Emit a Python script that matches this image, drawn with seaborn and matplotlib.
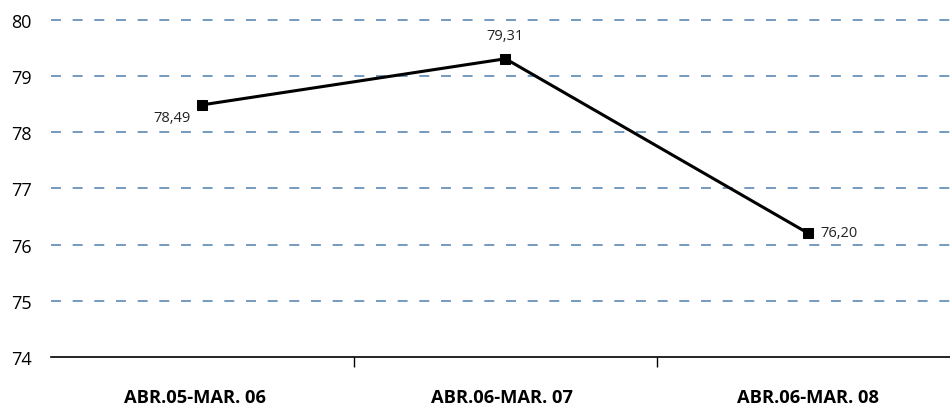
import matplotlib
matplotlib.use("Agg")
import matplotlib.pyplot as plt
import seaborn as sns
import pandas as pd

# data
periods = ["ABR.05-MAR. 06", "ABR.06-MAR. 07", "ABR.06-MAR. 08"]
values = [78.49, 79.31, 76.20]
y_ticks = [74, 75, 76, 77, 78, 79, 80]

sns.set_theme(style="white")
plt.rcParams["font.family"] = ["Open Sans", "DejaVu Sans"]

df = pd.DataFrame({"period": periods, "value": values})
df["x"] = range(len(periods))

fig = plt.figure(figsize=(9.5, 4.1), dpi=100)
ax = fig.add_axes([51 / 950, 52 / 410, 899 / 950, 337 / 410])

sns.lineplot(data=df, x="x", y="value", ax=ax, color="black", linewidth=2.2,
             marker="s", markersize=7, markeredgecolor="black", zorder=3)

ax.set_ylim(74, 80)
ax.set_xlim(-0.5, 2.467)
ax.set_yticks(y_ticks)
ax.set_yticklabels([str(t) for t in y_ticks], fontsize=13, color="black")
for t in y_ticks[1:]:
    ax.axhline(t, color="#6892b9", linestyle=(0, (5.5, 6.5)), linewidth=1.3,
               zorder=1, clip_on=False)

# labels for categories centered, ticks at boundaries
ax.set_xticks([0.5, 1.5])
ax.set_xticklabels([])
ax.tick_params(axis="x", direction="out", length=7, width=1, color="black", bottom=True)
ax.tick_params(axis="y", length=0, pad=14)
nudge = [-0.024, -0.01, 0]
for i, p in enumerate(periods):
    ax.text(i + nudge[i], -0.12, p, transform=ax.get_xaxis_transform(), ha="center",
            va="center", fontsize=13.2, fontweight="bold", color="black")

# value labels
offsets = [(-22, -9), (0, 16.5), (22, 0.5)]
for i, (v, off) in enumerate(zip(values, offsets)):
    ax.annotate(f"{v:.2f}".replace(".", ","), (i, v), xytext=off, textcoords="offset points",
                ha="center", va="center", fontsize=10.5, color="#222222")

for s in ["top", "right", "left"]:
    ax.spines[s].set_visible(False)
ax.spines["bottom"].set_color("black")
ax.spines["bottom"].set_linewidth(1.2)
ax.set_xlabel("")
ax.set_ylabel("")

fig.savefig("out.png", dpi=100)
